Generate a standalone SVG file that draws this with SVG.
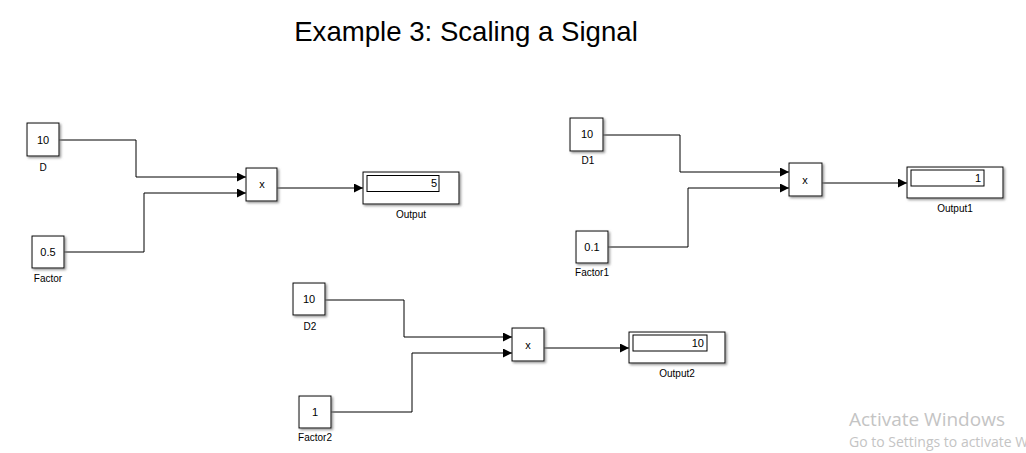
<svg xmlns="http://www.w3.org/2000/svg" width="1026" height="453" viewBox="0 0 1026 453">
<style>
  .blk { fill: #ffffff; stroke: #000000; stroke-width: 1; filter: url(#sh); }
  .inner { fill: #ffffff; stroke: #000000; stroke-width: 1; }
  .val { font-family: "Liberation Sans", Arial, sans-serif; font-size: 11px; fill: #000; text-anchor: middle; }
  .num { font-family: "Liberation Sans", Arial, sans-serif; font-size: 11px; fill: #000; text-anchor: end; }
  .lbl { font-family: "Liberation Sans", Arial, sans-serif; font-size: 10px; fill: #000; text-anchor: middle; }
  .wire { fill: none; stroke: #000000; stroke-width: 1; marker-end: url(#arr); }
  .title { font-family: "Liberation Sans", Arial, sans-serif; font-size: 27.6px; fill: #000; text-anchor: middle; }
  .wm1 { font-family: "Open Sans", "Noto Sans", sans-serif; font-size: 19px; fill: #c4c4c4; }
  .wm2 { font-family: "Open Sans", "Noto Sans", sans-serif; font-size: 14px; fill: #c4c4c4; }
</style>
<defs>
  <filter id="sh" x="-20%" y="-20%" width="150%" height="150%">
    <feDropShadow dx="1.5" dy="1.5" stdDeviation="1" flood-color="#777777" flood-opacity="0.8"/>
  </filter>
  <marker id="arr" markerUnits="userSpaceOnUse" markerWidth="9" markerHeight="9" refX="9" refY="4.5" orient="auto">
    <path d="M0,0 L9,4.5 L0,9 z" fill="#000"/>
  </marker>
</defs>
<rect width="1026" height="453" fill="#ffffff"/>
<text class="title" x="466" y="41">Example 3: Scaling a Signal</text>

<g id="connectors">
  <path class="wire" d="M59,140 H136 V177 H246"/>
  <path class="wire" d="M64,252 H144 V193 H246"/>
  <path class="wire" d="M277,188 H363"/>
  <path class="wire" d="M603,135 H680 V172 H789"/>
  <path class="wire" d="M608,247 H688 V188 H789"/>
  <path class="wire" d="M822,183 H907"/>
  <path class="wire" d="M325,300 H404 V337 H512"/>
  <path class="wire" d="M331,412 H412 V353 H512"/>
  <path class="wire" d="M544,348 H629"/>
</g>

<g id="D">
  <rect class="blk" x="27" y="123" width="32" height="33"/>
  <text class="val" x="43" y="144">10</text>
  <text class="lbl" x="43" y="171">D</text>
</g>
<g id="Factor">
  <rect class="blk" x="32" y="236" width="32" height="32"/>
  <text class="val" x="48" y="256">0.5</text>
  <text class="lbl" x="48" y="282">Factor</text>
</g>
<g id="Product">
  <rect class="blk" x="246" y="168" width="31" height="33"/>
  <text class="val" x="262" y="188">x</text>
</g>
<g id="Output">
  <rect class="blk" x="363" y="172" width="96" height="32"/>
  <rect class="inner" x="367" y="175.5" width="72" height="16"/>
  <text class="num" x="437" y="187">5</text>
  <text class="lbl" x="411" y="218">Output</text>
</g>

<g id="D1">
  <rect class="blk" x="570" y="118" width="33" height="33"/>
  <text class="val" x="587" y="138">10</text>
  <text class="lbl" x="588" y="164">D1</text>
</g>
<g id="Factor1">
  <rect class="blk" x="576" y="231" width="32" height="32"/>
  <text class="val" x="592" y="251">0.1</text>
  <text class="lbl" x="592" y="276">Factor1</text>
</g>
<g id="Product1">
  <rect class="blk" x="789" y="163" width="33" height="33"/>
  <text class="val" x="805" y="184">x</text>
</g>
<g id="Output1">
  <rect class="blk" x="907" y="167" width="96" height="31"/>
  <rect class="inner" x="911" y="170" width="73" height="16"/>
  <text class="num" x="981" y="182">1</text>
  <text class="lbl" x="955" y="212">Output1</text>
</g>

<g id="D2">
  <rect class="blk" x="293" y="283" width="32" height="32"/>
  <text class="val" x="309" y="303">10</text>
  <text class="lbl" x="310" y="330">D2</text>
</g>
<g id="Factor2">
  <rect class="blk" x="299" y="396" width="32" height="32"/>
  <text class="val" x="315" y="416">1</text>
  <text class="lbl" x="315" y="441">Factor2</text>
</g>
<g id="Product2">
  <rect class="blk" x="512" y="328" width="32" height="33"/>
  <text class="val" x="528" y="349">x</text>
</g>
<g id="Output2">
  <rect class="blk" x="629" y="332" width="96" height="31"/>
  <rect class="inner" x="633" y="335" width="74" height="16"/>
  <text class="num" x="704" y="347">10</text>
  <text class="lbl" x="677" y="377">Output2</text>
</g>

<text class="wm1" x="849" y="426">Activate Windows</text>
<text class="wm2" x="849" y="447">Go to Settings to activate Windows.</text>
</svg>
